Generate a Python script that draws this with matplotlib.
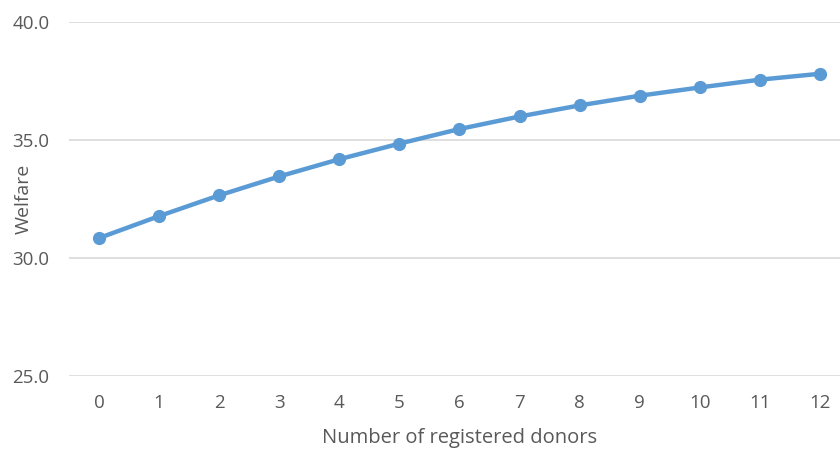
import numpy as np
import matplotlib.pyplot as plt

donors = list(range(13))
welfare = [30.85, 31.78, 32.66, 33.46, 34.19, 34.85, 35.47, 36.00,
           36.47, 36.88, 37.23, 37.56, 37.81]
y_ticks = [25.0, 30.0, 35.0, 40.0]

plt.rcParams['font.family'] = ['Open Sans', 'DejaVu Sans']
text_color = '#595959'

fig = plt.figure(figsize=(8.4, 4.5), dpi=100)
ax = fig.add_axes([0.082, 0.164, 0.930, 0.787])

ax.plot(donors, welfare, color='#5B9BD5', linewidth=3.2,
        marker='o', markersize=8.5, zorder=3)

ax.set_xlim(-0.5, 12.5)
ax.set_ylim(25, 40)
ax.set_yticks(y_ticks)
ax.set_yticklabels([f'{v:.1f}' for v in y_ticks])
ax.set_xticks(donors)
ax.grid(axis='y', color='#D9D9D9', linewidth=1.2)
ax.set_axisbelow(True)
for s in ax.spines.values():
    s.set_visible(False)
ax.tick_params(axis='both', length=0, labelsize=13.5, labelcolor=text_color)
ax.tick_params(axis='y', pad=14)
ax.tick_params(axis='x', pad=13)

# axis titles placed where the original puts them
ax.set_xlabel('Number of registered donors', fontsize=14.5, color=text_color, va='center')
ax.xaxis.set_label_coords(0.5, -0.175)
ax.set_ylabel('Welfare', fontsize=14, color=text_color, va='center')
ax.yaxis.set_label_coords(-0.0576, 0.5)

fig.savefig('out.png', dpi=100)
